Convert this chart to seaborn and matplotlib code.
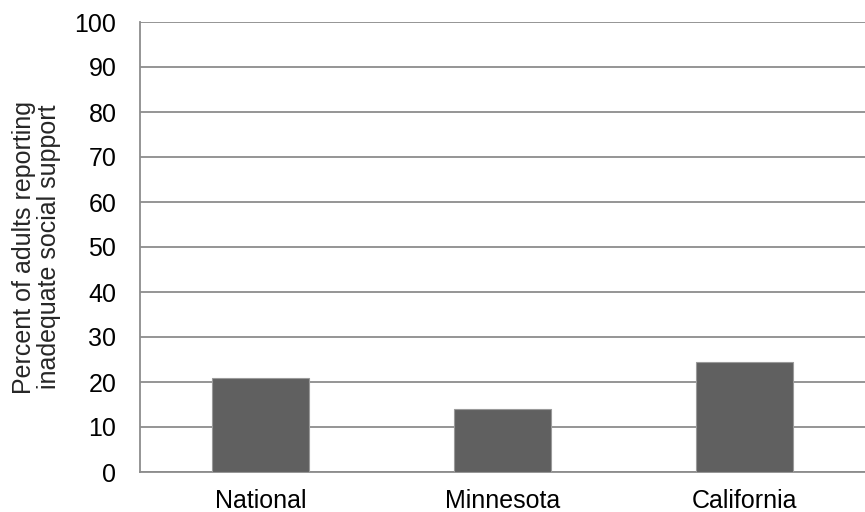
import matplotlib
matplotlib.use("Agg")
import matplotlib.pyplot as plt
import seaborn as sns
import pandas as pd

categories = ["National", "Minnesota", "California"]
values = [20.8, 13.9, 24.4]
yticks = [0, 10, 20, 30, 40, 50, 60, 70, 80, 90, 100]

sns.set_style("white")
plt.rcParams['font.family'] = ['Liberation Sans', 'DejaVu Sans']

df = pd.DataFrame({"cat": categories, "val": values})

fig = plt.figure(figsize=(8.65, 5.12), dpi=100)
ax = fig.add_axes([140/865, 1-472/512, 1-140/865, (472-22)/512])

sns.barplot(data=df, x="cat", y="val", color="#606060", width=0.4,
            edgecolor="#9a9a9a", linewidth=0.8, saturation=1, ax=ax, zorder=3)

ax.set_ylim(0, 100)
ax.set_xlim(-0.5, 2.5)
ax.set_yticks(yticks)
ax.yaxis.grid(True, color="#8c8c8c", linewidth=1.3, zorder=0)
ax.set_axisbelow(True)
for s in ["top", "right"]:
    ax.spines[s].set_visible(False)
for s in ["left", "bottom"]:
    ax.spines[s].set_color("#8c8c8c")
    ax.spines[s].set_linewidth(1.3)

ax.tick_params(axis="y", length=0, pad=17, labelsize=18, labelcolor="black")
ax.tick_params(axis="x", length=0, pad=12, labelsize=18, labelcolor="black")
ax.set_xlabel("")
ax.set_ylabel("Percent of adults reporting\ninadequate social support", fontsize=18,
              labelpad=10, linespacing=1.05)

fig.savefig("out.png", dpi=100)
